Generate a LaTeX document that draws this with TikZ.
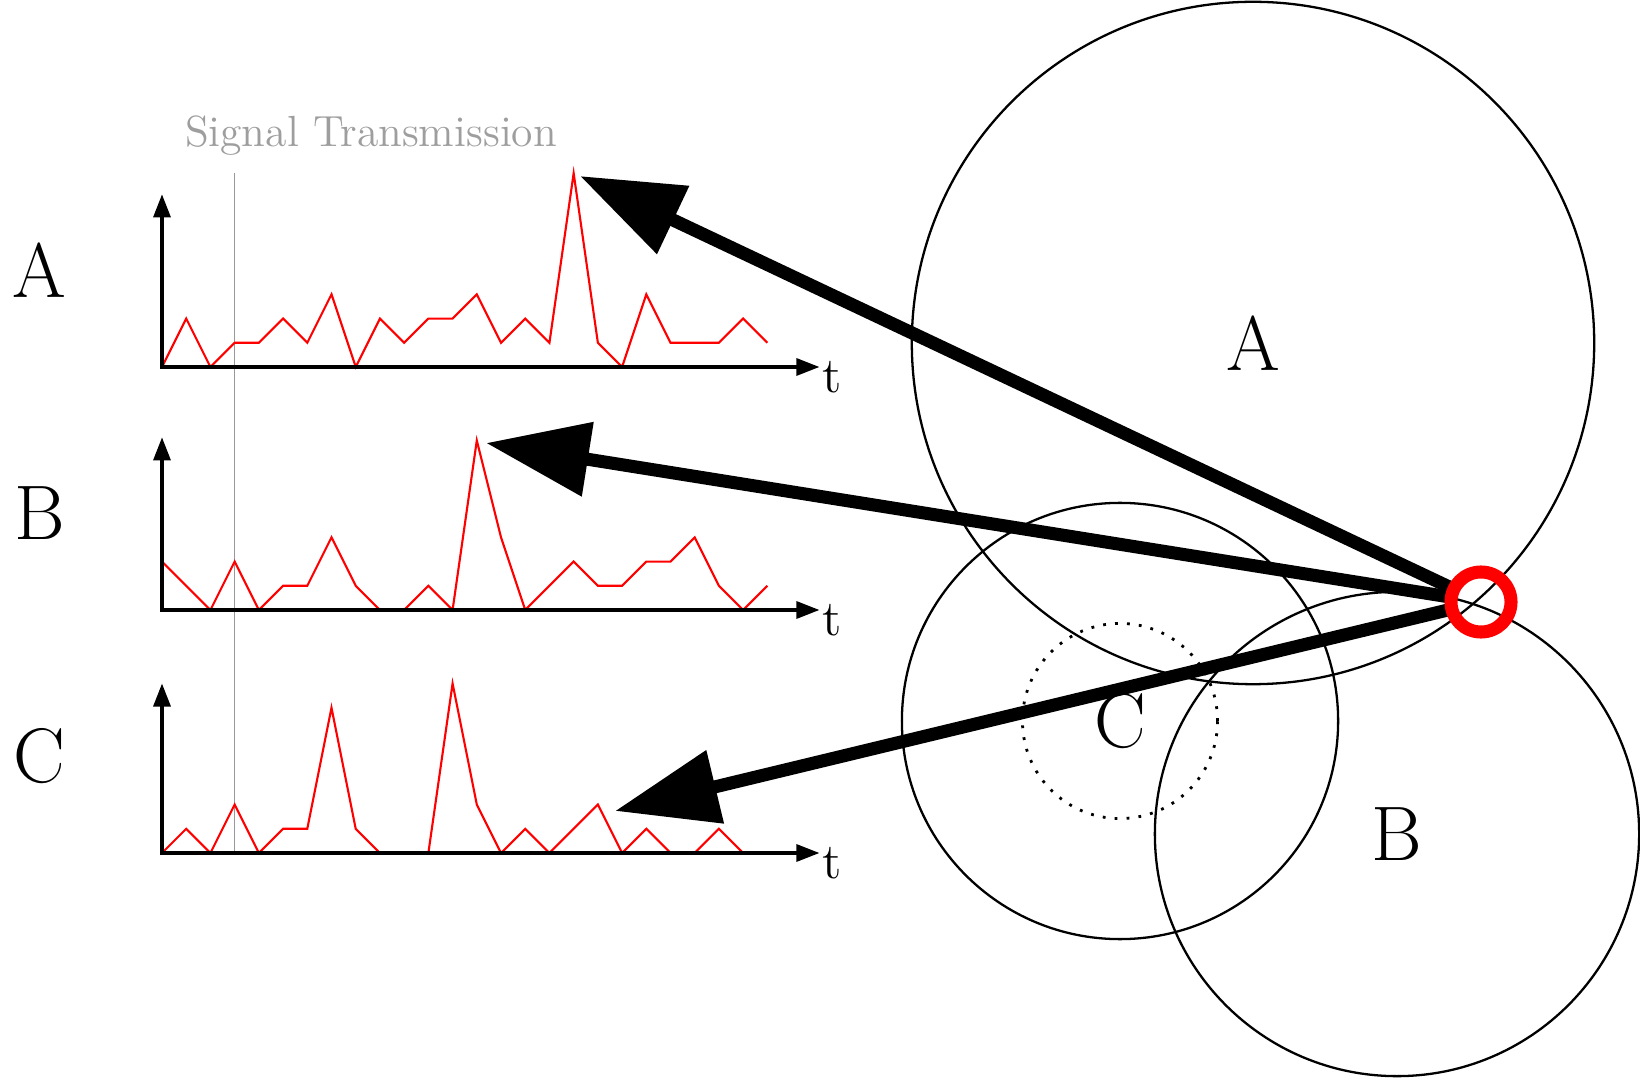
\documentclass[tikz,border=0pt]{standalone}
\usetikzlibrary{arrows.meta}
\pgfdeclarelayer{fg}
\pgfsetlayers{main,fg}
\newcommand{\mybigfont}{\fontsize{22}{26}\selectfont}
\newcommand{\mygrayfont}{\fontsize{12.4}{15}\selectfont}
\begin{document}
\begin{tikzpicture}[x=0.01cm, y=-0.01cm,
  bigcirc/.style={circle, draw, line width=0.65pt, inner sep=0pt, font=\mybigfont},
  dotcirc/.style={circle, draw, line width=0.8pt, inner sep=0pt, dash pattern=on 0.8pt off 2.6pt},
  ringnode/.style={circle, draw=red, line width=3.7pt, inner sep=0pt, outer sep=0pt, minimum size=0.6cm},
  bigarrow/.style={line width=3.7pt, -{Triangle[length=1.03cm, width=0.72cm]}},
  axisline/.style={line width=0.9pt, {Triangle[length=0.23cm, width=0.17cm]}-{Triangle[length=0.23cm, width=0.17cm]}},
  sig/.style={red, line width=0.6pt, line join=miter},
  tlabel/.style={anchor=north west, inner sep=0pt, font=\Large, yshift=0.06cm, xshift=0.02cm},
  biglabel/.style={font=\mybigfont, inner sep=0pt},
  grayline/.style={black!40, line width=0.5pt},
  graytext/.style={black!38, font=\mygrayfont}
]
\useasboundingbox (0,0) rectangle (1640,1080);

% circles
\node[bigcirc, minimum size=6.82cm] (cA) at (1253,343) {A};
\node[bigcirc, minimum size=4.36cm] (cC) at (1120,721) {C};
\node[dotcirc, minimum size=1.95cm] (cD) at (1120,721) {};
\node[bigcirc, minimum size=4.84cm] (cB) at (1397,834) {B};

% signal transmission marker
\node[graytext] (st) at (371,136) {Signal Transmission};
\coordinate (gtop) at (234.6,173);
\coordinate (gbot) at (234.6,853);
\draw[grayline] (gtop) -- (gbot);

% plot A
\begin{scope}[shift={(162,367)}, x=0.242cm, y=0.242cm]
  \draw[sig] plot coordinates {(0,0) (1,2) (2,0) (3,1) (4,1) (5,2) (6,1) (7,3) (8,0) (9,2) (10,1) (11,2) (12,2) (13,3) (14,1) (15,2) (16,1) (17,8) (18,1) (19,0) (20,3) (21,1) (22,1) (23,1) (24,2) (25,1)};
  \draw[axisline] (0,7.13) -- (0,0) -- (27.15,0);
  \node[tlabel] (tA) at (27.15,0) {t};
  \node[biglabel] (lA) at (-5.05,4) {A};
\end{scope}

% plot B
\begin{scope}[shift={(162,610)}, x=0.242cm, y=0.242cm]
  \draw[sig] plot coordinates {(0,2) (1,1) (2,0) (3,2) (4,0) (5,1) (6,1) (7,3) (8,1) (9,0) (10,0) (11,1) (12,0) (13,7) (14,3) (15,0) (16,1) (17,2) (18,1) (19,1) (20,2) (21,2) (22,3) (23,1) (24,0) (25,1)};
  \draw[axisline] (0,7.13) -- (0,0) -- (27.15,0);
  \node[tlabel] (tB) at (27.15,0) {t};
  \node[biglabel] (lB) at (-5.05,4) {B};
\end{scope}

% plot C
\begin{scope}[shift={(162,853)}, x=0.242cm, y=0.242cm]
  \draw[sig] plot coordinates {(0,0) (1,1) (2,0) (3,2) (4,0) (5,1) (6,1) (7,6) (8,1) (9,0) (10,0) (11,0) (12,7) (13,2) (14,0) (15,1) (16,0) (17,1) (18,2) (19,0) (20,1) (21,0) (22,0) (23,1) (24,0)};
  \draw[axisline] (0,7.0) -- (0,0) -- (27.15,0);
  \node[tlabel] (tC) at (27.15,0) {t};
  \node[biglabel] (lC) at (-5.05,4) {C};
\end{scope}

% receiver ring
\begin{pgfonlayer}{fg}
  \node[ringnode] (ring) at (1481,602) {};
\end{pgfonlayer}

% arrows
\coordinate (tipA) at (580,176);
\coordinate (tipB) at (486,443);
\coordinate (tipC) at (615,811);
\draw[bigarrow] (ring) -- (tipA);
\draw[bigarrow] (ring) -- (tipB);
\draw[bigarrow] (ring) -- (tipC);
\end{tikzpicture}
\end{document}
